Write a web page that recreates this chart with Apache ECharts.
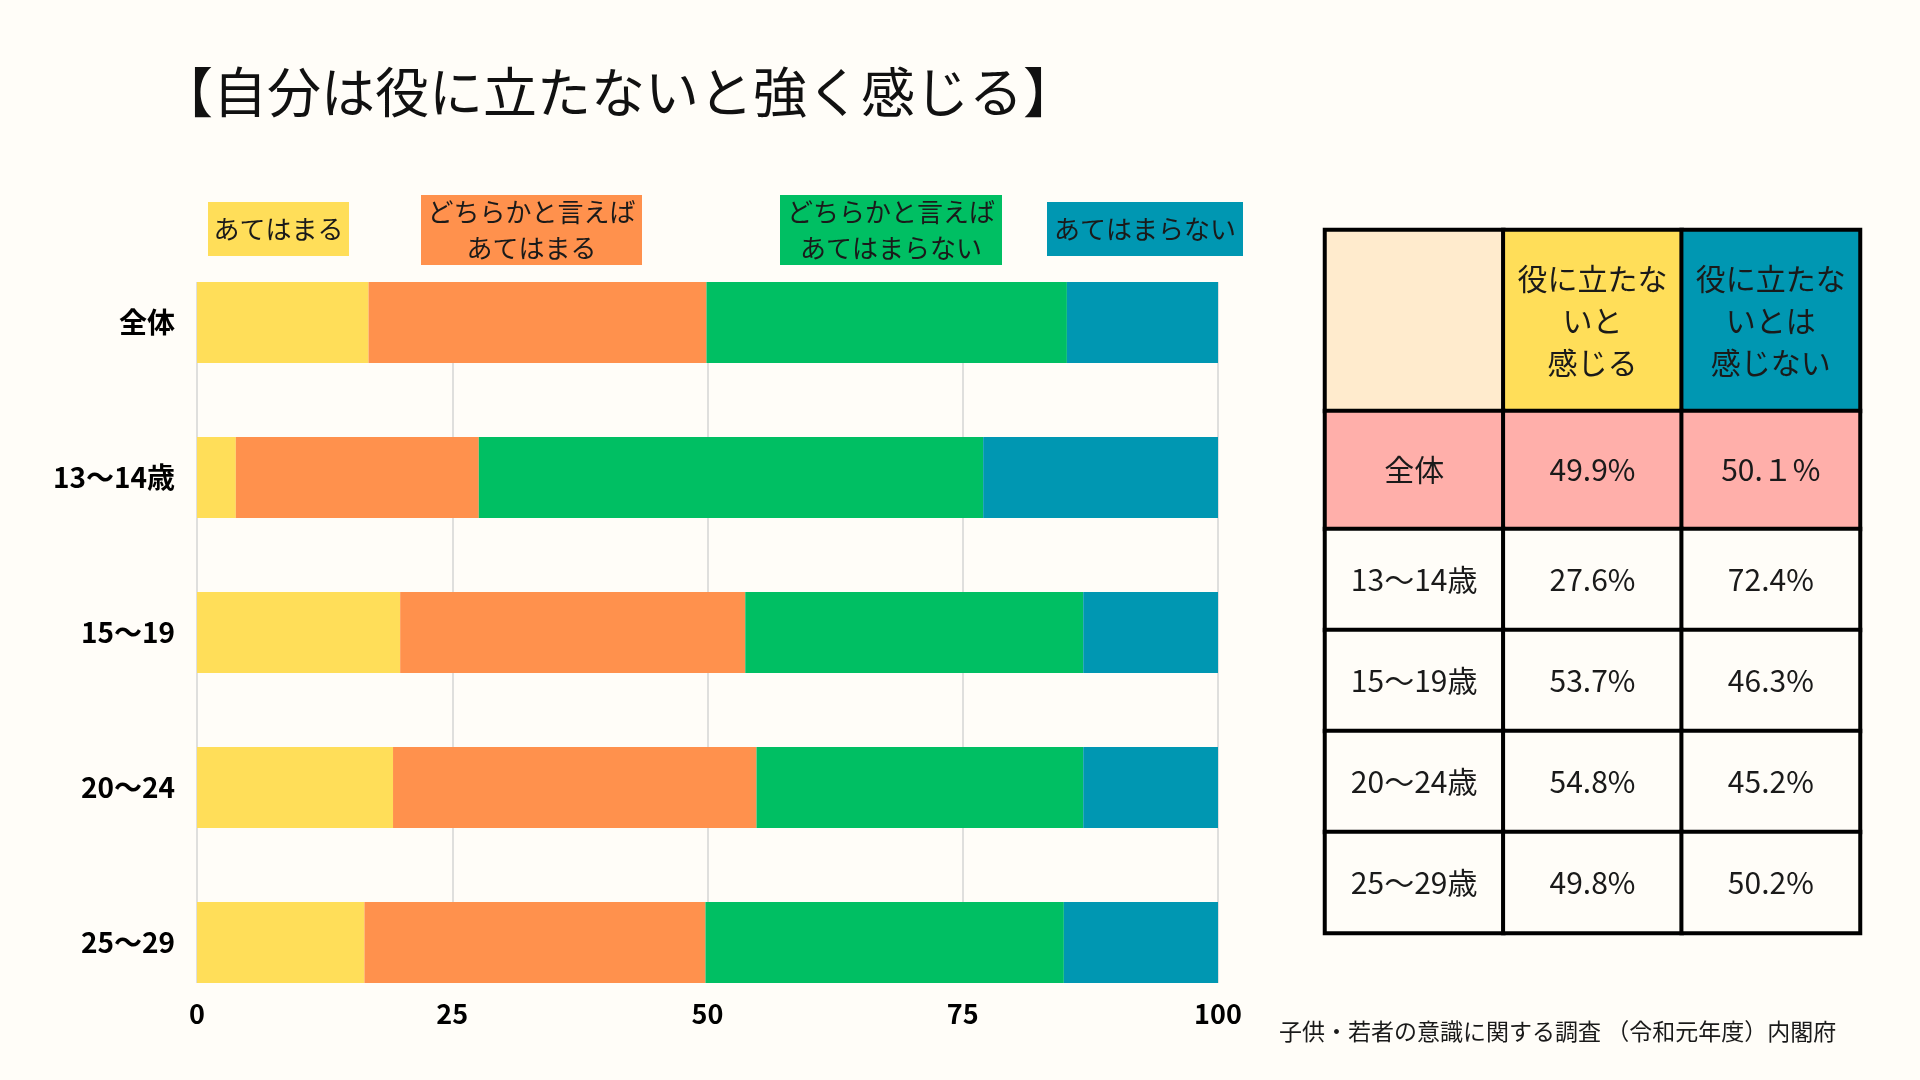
<!DOCTYPE html>
<html>
<head>
<meta charset="utf-8">
<script src="https://cdn.jsdelivr.net/npm/echarts@6/dist/echarts.min.js"></script>
<style>
  html, body { margin: 0; padding: 0; background: #FFFDF8; }
  #chart { width: 1920px; height: 1080px; }
</style>
</head>
<body>
<div id="chart"></div>
<script>
// 自分は役に立たないと強く感じる（子供・若者の意識に関する調査 令和元年度）
var categories = ['全体', '13〜14歳', '15〜19', '20〜24', '25〜29'];
var seriesNames = ['あてはまる', 'どちらかと言えば\nあてはまる', 'どちらかと言えば\nあてはまらない', 'あてはまらない'];
var agree = [16.8, 3.8, 19.9, 19.2, 16.4];
var ratherAgree = [33.1, 23.8, 33.8, 35.6, 33.4];
var ratherDisagree = [35.3, 49.4, 33.1, 32.0, 35.1];
var disagree = [14.8, 23.0, 13.2, 13.2, 15.1];

var tableHeaders = ['', '役に立たな\nいと\n感じる', '役に立たな\nいとは\n感じない'];
var tableRows = ['全体', '13〜14歳', '15〜19歳', '20〜24歳', '25〜29歳'];
var feelRates = ['49.9%', '27.6%', '53.7%', '54.8%', '49.8%'];
var notFeelRates = ['50.１%', '72.4%', '46.3%', '45.2%', '50.2%'];

var colors = ['#FFDE59', '#FF914D', '#00BF63', '#0097B2'];
var headerColors = ['#FFEBCD', '#FFDE59', '#0097B2'];
var FONT = '"Noto Sans CJK JP", "Noto Sans", sans-serif';

var myChart = echarts.init(document.getElementById('chart'));

// legend boxes (hand placed like the original slide)
var legendBoxes = [
    { x: 208, y: 202, w: 141, h: 54 },
    { x: 421, y: 195, w: 221, h: 70 },
    { x: 780, y: 195, w: 222, h: 70 },
    { x: 1047, y: 202, w: 196, h: 54 }
];
var legendGraphics = legendBoxes.map(function (b, i) {
    return {
        type: 'group',
        children: [
            { type: 'rect', shape: { x: b.x, y: b.y, width: b.w, height: b.h }, style: { fill: colors[i] } },
            {
                type: 'text', x: b.x + b.w / 2, y: b.y + b.h / 2,
                style: {
                    text: seriesNames[i], fill: '#1a1a1a', font: '26px ' + FONT,
                    align: 'center', verticalAlign: 'middle', lineHeight: 36
                }
            }
        ]
    };
});

var barData = [agree, ratherAgree, ratherDisagree, disagree];
var barSeries = barData.map(function (d, i) {
    return {
        name: seriesNames[i],
        type: 'bar',
        stack: 'total',
        xAxisIndex: 0,
        yAxisIndex: 0,
        barWidth: 81,
        itemStyle: { color: colors[i] },
        data: d
    };
});

function cellColor(ri) { return ri === 0 ? '#FFAFAA' : '#FFFDF8'; }

var headerData = tableHeaders.map(function (t, c) {
    return { value: [c, 0, 0], itemStyle: { color: headerColors[c] } };
});
var totalRowData = [];
var ageRowData = [];
tableRows.forEach(function (r, ri) {
    for (var c = 0; c < 3; c++) {
        var item = { value: [c, ri === 0 ? 0 : ri - 1, ri], itemStyle: { color: cellColor(ri) } };
        if (ri === 0) totalRowData.push(item); else ageRowData.push(item);
    }
});

var cellLabel = {
    show: true,
    color: '#1a1a1a',
    fontFamily: FONT,
    fontSize: 30,
    lineHeight: 42
};
function bodyLabel(p) {
    var c = p.value[0], r = p.value[2];
    return c === 0 ? tableRows[r] : (c === 1 ? feelRates[r] : notFeelRates[r]);
}
function tableSeries(axisIdx, data, fmt) {
    return {
        type: 'heatmap',
        xAxisIndex: axisIdx,
        yAxisIndex: axisIdx,
        itemStyle: { borderColor: '#000', borderWidth: 4 },
        label: Object.assign({}, cellLabel, { formatter: fmt }),
        emphasis: { disabled: true },
        data: data
    };
}

var chartOption = {
    backgroundColor: '#FFFDF8',
    animation: false,
    title: {
        text: '【自分は役に立たないと強く感じる】',
        left: 154,
        top: 60,
        textStyle: { fontFamily: FONT, fontSize: 54, fontWeight: 'normal', color: '#111' }
    },
    grid: [
        { left: 197, top: 245, width: 1021, height: 775 },
        { left: 197, top: 282, width: 1021, height: 701 },
        { left: 1325, top: 230, width: 535, height: 181 },
        { left: 1325, top: 411, width: 535, height: 118 },
        { left: 1325, top: 529, width: 535, height: 404 }
    ],
    xAxis: [
        { gridIndex: 0, type: 'value', min: 0, max: 100, show: false },
        {
            gridIndex: 1, type: 'value', min: 0, max: 100, interval: 25,
            axisLine: { show: false }, axisTick: { show: false },
            axisLabel: { color: '#000', fontFamily: FONT, fontWeight: 'bold', fontSize: 27, margin: 17 },
            splitLine: { show: true, lineStyle: { color: '#d4d4d4', width: 1.5 } }
        },
        { gridIndex: 2, type: 'category', data: [0, 1, 2], show: false },
        { gridIndex: 3, type: 'category', data: [0, 1, 2], show: false },
        { gridIndex: 4, type: 'category', data: [0, 1, 2], show: false }
    ],
    yAxis: [
        {
            gridIndex: 0, type: 'category', data: categories, inverse: true,
            axisLine: { show: false }, axisTick: { show: false },
            axisLabel: { color: '#000', fontFamily: FONT, fontWeight: 'bold', fontSize: 28, margin: 22 }
        },
        { gridIndex: 1, type: 'value', show: false, splitLine: { show: false } },
        { gridIndex: 2, type: 'category', data: ['header'], show: false },
        { gridIndex: 3, type: 'category', data: tableRows.slice(0, 1), show: false },
        { gridIndex: 4, type: 'category', data: tableRows.slice(1), inverse: true, show: false }
    ],
    series: barSeries.concat([
        tableSeries(2, headerData, function (p) { return tableHeaders[p.value[0]]; }),
        tableSeries(3, totalRowData, bodyLabel),
        tableSeries(4, ageRowData, bodyLabel)
    ]),
    graphic: legendGraphics.concat([
        {
            type: 'text', x: 1279, y: 1031,
            style: {
                text: '子供・若者の意識に関する調査 （令和元年度）内閣府',
                fill: '#1a1a1a', font: '23px ' + FONT, verticalAlign: 'middle'
            }
        }
    ])
};
myChart.setOption(chartOption);
</script>
</body>
</html>
